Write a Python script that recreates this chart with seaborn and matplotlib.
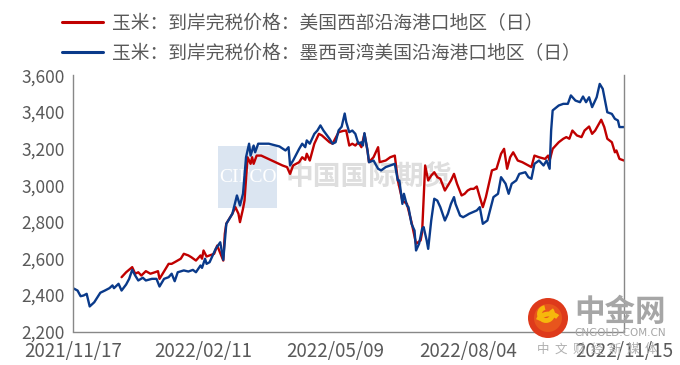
import matplotlib
matplotlib.use("Agg")
import matplotlib.pyplot as plt
import matplotlib.dates as mdates
from matplotlib.patches import Rectangle, Circle, Arc
from matplotlib.ticker import FuncFormatter, FixedLocator
import seaborn as sns
import pandas as pd

# ---------------- data ----------------
blue_label = "玉米：到岸完税价格：墨西哥湾美国沿海港口地区（日）"
red_label = "玉米：到岸完税价格：美国西部沿海港口地区（日）"

blue_dates = [
    "2021-11-17", "2021-11-20", "2021-11-22", "2021-11-24", "2021-11-26", "2021-11-28", "2021-12-01", "2021-12-05", "2021-12-08", "2021-12-11",
    "2021-12-13", "2021-12-14", "2021-12-17", "2021-12-19", "2021-12-22", "2021-12-24", "2021-12-26", "2021-12-28", "2021-12-30", "2022-01-02",
    "2022-01-04", "2022-01-08", "2022-01-11", "2022-01-13", "2022-01-16", "2022-01-19", "2022-01-21", "2022-01-23", "2022-01-25", "2022-01-29",
    "2022-02-01", "2022-02-04", "2022-02-06", "2022-02-09", "2022-02-10", "2022-02-12", "2022-02-13", "2022-02-15", "2022-02-19", "2022-02-22",
    "2022-02-24", "2022-02-26", "2022-03-02", "2022-03-05", "2022-03-07", "2022-03-09", "2022-03-11", "2022-03-13", "2022-03-14", "2022-03-16",
    "2022-03-17", "2022-03-19", "2022-03-26", "2022-04-02", "2022-04-06", "2022-04-08", "2022-04-09", "2022-04-11", "2022-04-15", "2022-04-17",
    "2022-04-19", "2022-04-20", "2022-04-22", "2022-04-25", "2022-04-27", "2022-04-29", "2022-05-01", "2022-05-05", "2022-05-07", "2022-05-09",
    "2022-05-11", "2022-05-13", "2022-05-15", "2022-05-16", "2022-05-18", "2022-05-20", "2022-05-22", "2022-05-24", "2022-05-26", "2022-05-27",
    "2022-05-28", "2022-05-30", "2022-05-31", "2022-06-03", "2022-06-06", "2022-06-08", "2022-06-11", "2022-06-14", "2022-06-17", "2022-06-19",
    "2022-06-20", "2022-06-22", "2022-06-23", "2022-06-25", "2022-06-26", "2022-06-28", "2022-06-30", "2022-07-01", "2022-07-03", "2022-07-05",
    "2022-07-06", "2022-07-08", "2022-07-09", "2022-07-11", "2022-07-13", "2022-07-15", "2022-07-17", "2022-07-20", "2022-07-22", "2022-07-24",
    "2022-07-26", "2022-07-27", "2022-07-30", "2022-08-01", "2022-08-03", "2022-08-05", "2022-08-10", "2022-08-12", "2022-08-14", "2022-08-17",
    "2022-08-21", "2022-08-24", "2022-08-26", "2022-08-29", "2022-08-31", "2022-09-02", "2022-09-05", "2022-09-07", "2022-09-11", "2022-09-13",
    "2022-09-15", "2022-09-17", "2022-09-20", "2022-09-23", "2022-09-25", "2022-09-27", "2022-09-28", "2022-09-29", "2022-10-03", "2022-10-06",
    "2022-10-09", "2022-10-11", "2022-10-14", "2022-10-17", "2022-10-19", "2022-10-21", "2022-10-23", "2022-10-25", "2022-10-28", "2022-10-30",
    "2022-11-01", "2022-11-04", "2022-11-07", "2022-11-09", "2022-11-11", "2022-11-12", "2022-11-15",
]
blue_values = [
    2437, 2424, 2393, 2397, 2406, 2337, 2360, 2412, 2424, 2437,
    2452, 2437, 2461, 2424, 2457, 2488, 2537, 2506, 2479, 2494,
    2479, 2488, 2488, 2446, 2488, 2497, 2516, 2475, 2524, 2534,
    2528, 2537, 2524, 2561, 2548, 2598, 2570, 2579, 2652, 2688,
    2592, 2789, 2844, 2944, 2889, 2953, 3153, 3227, 3162, 3217,
    3180, 3227, 3227, 3212, 3190, 3208, 3108, 3135, 3199, 3227,
    3208, 3245, 3227, 3281, 3299, 3327, 3299, 3254, 3227, 3235,
    3300, 3320, 3392, 3345, 3290, 3299, 3281, 3227, 3235, 3217,
    3285, 3190, 3126, 3135, 3090, 3081, 3099, 3108, 3117, 3026,
    3026, 2898, 2953, 2889, 2880, 2789, 2752, 2643, 2680, 2762,
    2771, 2698, 2652, 2807, 2926, 2916, 2880, 2807, 2844, 2898,
    2935, 2898, 2834, 2825, 2834, 2844, 2862, 2880, 2789, 2807,
    2935, 2953, 3044, 3008, 2953, 3008, 3026, 3062, 3071, 3044,
    3035, 3117, 3135, 3108, 3135, 3090, 3299, 3409, 3436, 3445,
    3445, 3491, 3463, 3454, 3485, 3454, 3481, 3427, 3481, 3554,
    3527, 3399, 3390, 3363, 3354, 3318, 3318,
]

red_dates = [
    "2021-12-19", "2021-12-22", "2021-12-26", "2021-12-28", "2021-12-30", "2022-01-01", "2022-01-04", "2022-01-07", "2022-01-10", "2022-01-12",
    "2022-01-13", "2022-01-17", "2022-01-19", "2022-01-21", "2022-01-23", "2022-01-27", "2022-01-29", "2022-02-01", "2022-02-03", "2022-02-06",
    "2022-02-09", "2022-02-10", "2022-02-11", "2022-02-13", "2022-02-15", "2022-02-18", "2022-02-20", "2022-02-24", "2022-02-25", "2022-02-26",
    "2022-03-02", "2022-03-04", "2022-03-06", "2022-03-07", "2022-03-09", "2022-03-10", "2022-03-12", "2022-03-14", "2022-03-15", "2022-03-16",
    "2022-03-18", "2022-03-21", "2022-03-28", "2022-04-04", "2022-04-07", "2022-04-09", "2022-04-11", "2022-04-15", "2022-04-17", "2022-04-19",
    "2022-04-20", "2022-04-22", "2022-04-25", "2022-04-28", "2022-04-30", "2022-05-05", "2022-05-07", "2022-05-11", "2022-05-14", "2022-05-16",
    "2022-05-18", "2022-05-20", "2022-05-22", "2022-05-24", "2022-05-26", "2022-05-28", "2022-05-30", "2022-05-31", "2022-06-03", "2022-06-06",
    "2022-06-07", "2022-06-11", "2022-06-14", "2022-06-17", "2022-06-19", "2022-06-22", "2022-06-25", "2022-06-28", "2022-07-01", "2022-07-04",
    "2022-07-05", "2022-07-07", "2022-07-09", "2022-07-11", "2022-07-13", "2022-07-15", "2022-07-17", "2022-07-20", "2022-07-22", "2022-07-24",
    "2022-07-26", "2022-07-28", "2022-07-31", "2022-08-02", "2022-08-04", "2022-08-06", "2022-08-08", "2022-08-10", "2022-08-12", "2022-08-14",
    "2022-08-16", "2022-08-20", "2022-08-23", "2022-08-26", "2022-08-28", "2022-08-30", "2022-09-01", "2022-09-03", "2022-09-06", "2022-09-09",
    "2022-09-13", "2022-09-15", "2022-09-17", "2022-09-20", "2022-09-24", "2022-09-26", "2022-09-27", "2022-09-29", "2022-10-03", "2022-10-06",
    "2022-10-08", "2022-10-10", "2022-10-12", "2022-10-15", "2022-10-18", "2022-10-20", "2022-10-23", "2022-10-25", "2022-10-27", "2022-10-31",
    "2022-11-02", "2022-11-04", "2022-11-07", "2022-11-09", "2022-11-10", "2022-11-12", "2022-11-15",
]
red_values = [
    2497, 2524, 2552, 2516, 2524, 2506, 2530, 2516, 2524, 2530,
    2488, 2543, 2570, 2570, 2579, 2598, 2625, 2616, 2606, 2588,
    2616, 2598, 2643, 2610, 2616, 2625, 2670, 2588, 2734, 2790,
    2844, 2880, 2844, 2798, 2871, 2916, 3153, 3117, 3153, 3117,
    3162, 3162, 3135, 3108, 3099, 3062, 3108, 3126, 3153, 3139,
    3172, 3135, 3227, 3281, 3272, 3235, 3227, 3290, 3297, 3299,
    3217, 3227, 3217, 3235, 3208, 3281, 3190, 3126, 3153, 3208,
    3126, 3135, 3153, 3162, 3026, 2916, 2898, 2798, 2680, 2698,
    2743, 3108, 3026, 3053, 3071, 3044, 3035, 2971, 2998, 3026,
    3062, 3008, 2944, 2953, 2971, 2980, 2980, 2993, 2935, 2880,
    2935, 3081, 3090, 3172, 3199, 3090, 3153, 3180, 3135, 3126,
    3108, 3099, 3162, 3153, 3144, 3162, 3135, 3199, 3235, 3254,
    3263, 3254, 3299, 3272, 3263, 3299, 3321, 3281, 3299, 3358,
    3318, 3254, 3235, 3180, 3190, 3144, 3135,
]

x_tick_dates = ["2021-11-17", "2022-02-11", "2022-05-09", "2022-08-04", "2022-11-15"]
x_tick_labels = ["2021/11/17", "2022/02/11", "2022/05/09", "2022/08/04", "2022/11/15"]
x_minor_dates = ["2022-10-26"]
y_ticks = [2200, 2400, 2600, 2800, 3000, 3200, 3400, 3600]

# ---------------- style ----------------
sns.set_style("white")
plt.rcParams["font.family"] = ["Noto Sans CJK SC", "DejaVu Sans"]
plt.rcParams["axes.unicode_minus"] = False

RED = "#C00000"
BLUE = "#0A3A8A"
GREY_TXT = "#595959"
SPINE = "#888888"

W, H = 680, 365
fig = plt.figure(figsize=(W / 100, H / 100), dpi=100)
ax_l, ax_r, ax_t, ax_b = 73, 624, 75.5, 331.5
ax = fig.add_axes([ax_l / W, 1 - ax_b / H, (ax_r - ax_l) / W, (ax_b - ax_t) / H])

df_b = pd.DataFrame({"date": pd.to_datetime(blue_dates), "value": blue_values})
df_r = pd.DataFrame({"date": pd.to_datetime(red_dates), "value": red_values})

# watermark (behind the lines, inside the axes)
ax.add_patch(Rectangle((218 / W, 1 - 208 / H), 59 / W, 62 / H, transform=fig.transFigure,
                       facecolor="#dbe5f1", edgecolor="none", zorder=0.2, clip_on=False))
ax.text(247.5 / W, 1 - 177 / H, "CIFCO", transform=fig.transFigure, color="white", fontsize=14,
        family="Liberation Serif", ha="center", va="center", zorder=0.4)
ax.text(369 / W, 1 - 177 / H, "中国国际期货", transform=fig.transFigure, color="#dedede", fontsize=20,
        fontweight="bold", ha="center", va="center", zorder=0.4)

sns.lineplot(data=df_r, x="date", y="value", color=RED, linewidth=1.7, ax=ax, label=red_label, sort=False)
sns.lineplot(data=df_b, x="date", y="value", color=BLUE, linewidth=1.7, ax=ax, label=blue_label, sort=False)

ax.set_xlim(pd.Timestamp("2021-11-17"), pd.Timestamp("2022-11-15"))
ax.set_ylim(2200, 3600)
ax.set_xlabel("")
ax.set_ylabel("")

ax.set_yticks(y_ticks)
ax.yaxis.set_major_formatter(FuncFormatter(lambda v, p: f"{int(v):,}"))
ax.set_xticks(pd.to_datetime(x_tick_dates))
ax.set_xticklabels(x_tick_labels)
ax.xaxis.set_minor_locator(FixedLocator(mdates.date2num(pd.to_datetime(x_minor_dates))))

ax.spines["top"].set_visible(False)
for s in ["left", "bottom", "right"]:
    ax.spines[s].set_color(SPINE)
    ax.spines[s].set_linewidth(1.0)

ax.tick_params(axis="y", which="major", direction="out", length=5, width=1, color=SPINE,
               labelsize=12.5, labelcolor=GREY_TXT, pad=1)
ax.tick_params(axis="x", which="both", direction="inout", length=6, width=1, color=SPINE,
               labelsize=13.5, labelcolor=GREY_TXT, pad=4)

# legend
handles, labels = ax.get_legend_handles_labels()
ax.get_legend().remove()
leg = fig.legend(handles, labels, loc="upper left", bbox_to_anchor=(62 / W, 1 - 13 / H),
                 frameon=False, fontsize=13.5, handlelength=2.2, handletextpad=0.45,
                 labelspacing=0.48, borderpad=0, borderaxespad=0)
for t in leg.get_texts():
    t.set_color(GREY_TXT)
for l in leg.get_lines():
    l.set_linewidth(2.2)

# logo (bottom right)
logo_ax = fig.add_axes([0, 0, 1, 1], facecolor="none")
logo_ax.set_xlim(0, W)
logo_ax.set_ylim(H, 0)
logo_ax.axis("off")
logo_ax.add_patch(Circle((548, 318), 20, facecolor="#de3a1b", edgecolor="none"))
logo_ax.add_patch(Circle((548, 318), 14, facecolor="#e8551d", edgecolor="none"))
logo_ax.add_patch(Arc((546, 314), 13, 13, theta1=-40, theta2=260, color="#f6b80c", linewidth=3.5))
logo_ax.add_patch(Arc((549, 322), 22, 16, theta1=190, theta2=330, color="#f6b80c", linewidth=3.5))
logo_ax.text(620, 312, "中金网", fontsize=22, fontweight="bold", color="#a6a6a6", ha="center", va="center")
logo_ax.text(620, 333, "CNGOLD.COM.CN", fontsize=7.5, color="#a6a6a6", ha="center", va="center",
             family="DejaVu Sans")
logo_ax.text(597, 349, "中  文  财  经  新  媒  体", fontsize=9, color="#b0b0b0", ha="center", va="center")

fig.savefig("out.png", dpi=100)
